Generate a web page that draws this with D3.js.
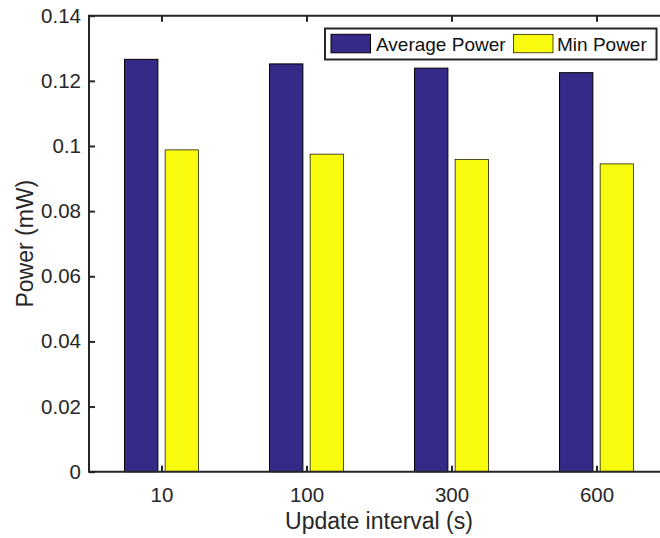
<!DOCTYPE html>
<html>
<head>
<meta charset="utf-8">
<script src="https://cdn.jsdelivr.net/npm/d3@7"></script>
<style>
  html, body { margin: 0; padding: 0; background: #fff; overflow: hidden; }
  svg { display: block; overflow: hidden; font-family: "Liberation Sans", Arial, Helvetica, sans-serif; }
</style>
</head>
<body>
<svg id="chart" width="660" height="538"></svg>
<script>
// Power draw per update interval
const categories = ["10", "100", "300", "600"];
const averagePower = [0.1266, 0.1252, 0.1239, 0.1225];
const minPower = [0.0988, 0.0975, 0.0959, 0.0945];
const seriesNames = ["Average Power", "Min Power"];
const yTicks = [0, 0.02, 0.04, 0.06, 0.08, 0.1, 0.12, 0.14];
const yTickLabels = ["0", "0.02", "0.04", "0.06", "0.08", "0.1", "0.12", "0.14"];

const ink = "#262626";
const colors = ["#352a87", "#f9fb0e"];
const edgeWidths = [1, 0.7];

const svg = d3.select("#chart");
const width = 660;
const plotLeft = 89, plotRight = 669, plotTop = 15.7, plotBottom = 471.7;

const x = d3.scaleLinear().domain([0.5, categories.length + 0.5]).range([plotLeft, plotRight]);
const y = d3.scaleLinear().domain([0, 0.14]).range([plotBottom, plotTop]);

const barW = 0.23, offset = 0.14;
const series = [averagePower, minPower];

// bars
series.forEach((vals, s) => {
  const dx = s === 0 ? -offset : offset;
  svg.append("g").selectAll("rect")
    .data(vals)
    .join("rect")
    .attr("x", (d, i) => x(i + 1 + dx - barW / 2))
    .attr("width", (d, i) => x(i + 1 + barW) - x(i + 1))
    .attr("y", d => y(d))
    .attr("height", d => y(0) - y(d))
    .attr("fill", colors[s])
    .attr("stroke", "#000")
    .attr("stroke-width", edgeWidths[s]);
});

// axis lines: bottom and top run to the right edge of the canvas, left spans the y range
const catPos = categories.map((c, i) => i + 1);
const tickLen = 6;

svg.append("line").attr("x1", plotLeft).attr("x2", width).attr("y1", plotBottom).attr("y2", plotBottom)
  .attr("stroke", ink).attr("stroke-width", 2);
svg.append("line").attr("x1", plotLeft).attr("x2", width).attr("y1", plotTop).attr("y2", plotTop)
  .attr("stroke", ink).attr("stroke-width", 2);
svg.append("line").attr("x1", plotLeft).attr("x2", plotLeft).attr("y1", plotTop - 1).attr("y2", plotBottom + 1)
  .attr("stroke", ink).attr("stroke-width", 2);

// ticks (pointing inward) and labels
const gBottom = svg.append("g").attr("transform", `translate(0,${plotBottom})`)
  .call(d3.axisBottom(x).tickValues(catPos).tickFormat((d, i) => categories[i])
    .tickSizeInner(-tickLen).tickSizeOuter(0).tickPadding(16));
const gTop = svg.append("g").attr("transform", `translate(0,${plotTop})`)
  .call(d3.axisTop(x).tickValues(catPos).tickFormat("").tickSizeInner(-tickLen).tickSizeOuter(0));
const gLeft = svg.append("g").attr("transform", `translate(${plotLeft},0)`)
  .call(d3.axisLeft(y).tickValues(yTicks).tickFormat((d, i) => yTickLabels[i])
    .tickSizeInner(-tickLen).tickSizeOuter(0).tickPadding(8));

[gBottom, gTop, gLeft].forEach(g => {
  g.select(".domain").remove();
  g.selectAll(".tick line").attr("stroke", ink).attr("stroke-width", 2);
  g.selectAll(".tick text").attr("fill", ink).attr("font-size", 20.5)
    .attr("font-family", "'Liberation Sans', Arial, Helvetica, sans-serif");
});

// axis titles
svg.append("text")
  .attr("x", (plotLeft + plotRight) / 2).attr("y", 528.5)
  .attr("text-anchor", "middle").attr("font-size", 23).attr("fill", ink)
  .text("Update interval (s)");
svg.append("text")
  .attr("transform", `translate(33,${(plotTop + plotBottom) / 2}) rotate(-90)`)
  .attr("text-anchor", "middle").attr("font-size", 23).attr("fill", ink)
  .text("Power (mW)");

// legend
const lg = svg.append("g");
lg.append("rect").attr("x", 325).attr("y", 28.5).attr("width", 331.5).attr("height", 31)
  .attr("fill", "#fff").attr("stroke", ink).attr("stroke-width", 2);
const items = [
  { sx: 331, tx: 376 },
  { sx: 513.5, tx: 557 }
];
items.forEach((it, s) => {
  lg.append("rect").attr("x", it.sx).attr("y", 34.3).attr("width", 39.5).attr("height", 18.5)
    .attr("fill", colors[s]).attr("stroke", "#000").attr("stroke-width", edgeWidths[s]);
  lg.append("text").attr("x", it.tx).attr("y", 50.5).attr("font-size", 19).attr("fill", "#111")
    .text(seriesNames[s]);
});
</script>
</body>
</html>
